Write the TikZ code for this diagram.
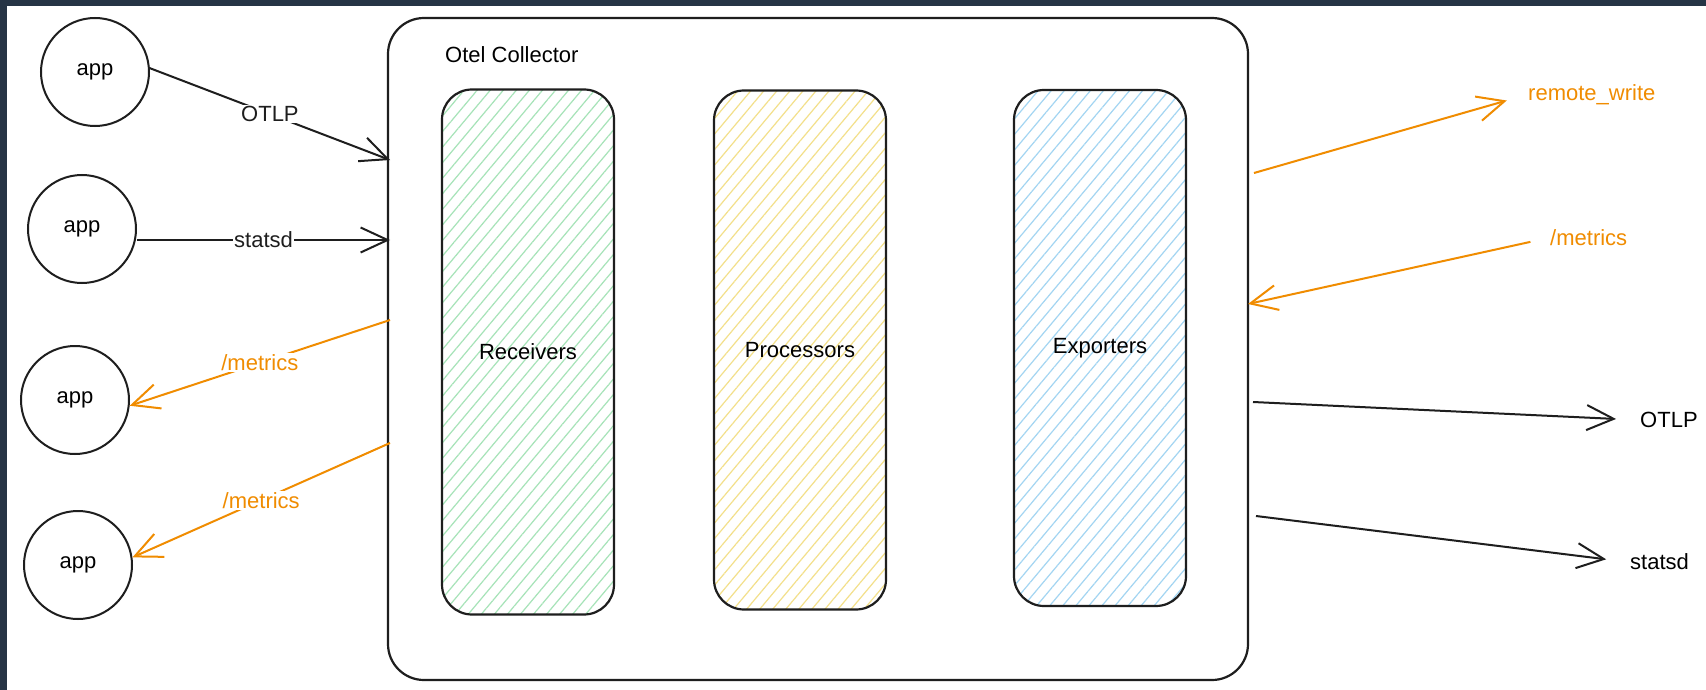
\documentclass[tikz,border=0pt]{standalone}
\usepackage{fontspec}
\setmainfont{Liberation Sans}
\usepackage{tikz}
\usetikzlibrary{arrows.meta,patterns.meta,positioning}
\definecolor{ink}{HTML}{1E1E1E}
\definecolor{ora}{HTML}{F08C00}
\definecolor{framebg}{HTML}{263445}
\definecolor{hgreen}{HTML}{A6E3B8}
\definecolor{hyellow}{HTML}{F3E08A}
\definecolor{hblue}{HTML}{A3D5F2}
\tikzset{app/.style={draw=ink,circle,line width=2pt,minimum size=108pt,inner sep=0pt},
  stage/.style={draw=ink,line width=2.2pt,rounded corners=30pt,minimum width=172pt,align=center},
  hatch/.style={pattern={Lines[angle=50,distance=10pt,line width=1.2pt]},pattern color=#1},
  arr/.style={-{Straight Barb[length=27pt,width=25pt]},line width=2pt,ink},
  oarr/.style={arr,ora},
  lbl/.style={fill=white,inner sep=1.5pt},
  tag/.style={anchor=west,inner sep=2pt}}

\begin{document}
\begin{tikzpicture}[x=1pt,y=-1pt,font=\fontsize{22}{26}\selectfont]
\fill[white] (0,0) rectangle (1706,690);
\fill[framebg] (0,0) rectangle (1706,6);
\fill[framebg] (0,0) rectangle (7,690);
\useasboundingbox (0,0) rectangle (1706,690);

\node[app] (app1) at (95,72) {app};
\node[app] (app2) at (82,229) {app};
\node[app] (app3) at (75,400) {app};
\node[app] (app4) at (78,565) {app};

\node[draw=ink,line width=2.2pt,rounded corners=36pt,minimum width=860pt,minimum height=662pt] (col) at (818,349) {};
\node[tag] (title) at (443,55) {Otel Collector};
\node[stage,hatch=hgreen,minimum height=525pt] (rcv) at (528,352) {Receivers};
\node[stage,hatch=hyellow,minimum height=519pt] (proc) at (800,350) {Processors};
\node[stage,hatch=hblue,minimum height=516pt] (expo) at (1100,348) {Exporters};

\coordinate (inotlp) at (390,160);
\coordinate (instatsd) at (390,240);
\coordinate (outm1) at (390,320);
\coordinate (outm2) at (390,443);
\coordinate (outrw) at (1254,173);
\coordinate (inm) at (1248,304);
\coordinate (outotlp) at (1253,402);
\coordinate (outsd) at (1256,516);

\node[tag,text=ora] (rw) at (1526,95) {remote\_write};
\node[tag,text=ora] (pm) at (1548,238) {/metrics};
\node[tag] (otlp) at (1638,420) {OTLP};
\node[tag] (sd) at (1628,562) {statsd};

\draw[arr] (app1.4) -- node[lbl]{OTLP} (inotlp);
\draw[arr] (app2.east |- instatsd) -- node[lbl]{statsd} (instatsd);
\draw[oarr] (outm1) -- node[lbl,text=ora]{/metrics} (app3.-6);
\draw[oarr] (outm2) -- node[lbl,text=ora]{/metrics} (app4.8);

\draw[oarr,shorten >=20pt] (outrw) -- (rw.west);
\draw[oarr,shorten <=18pt] (pm.west) -- (inm);
\draw[arr,shorten >=22pt] (outotlp) -- (otlp.west);
\draw[arr,shorten >=22pt] (outsd) -- (sd.west);
\end{tikzpicture}
\end{document}
